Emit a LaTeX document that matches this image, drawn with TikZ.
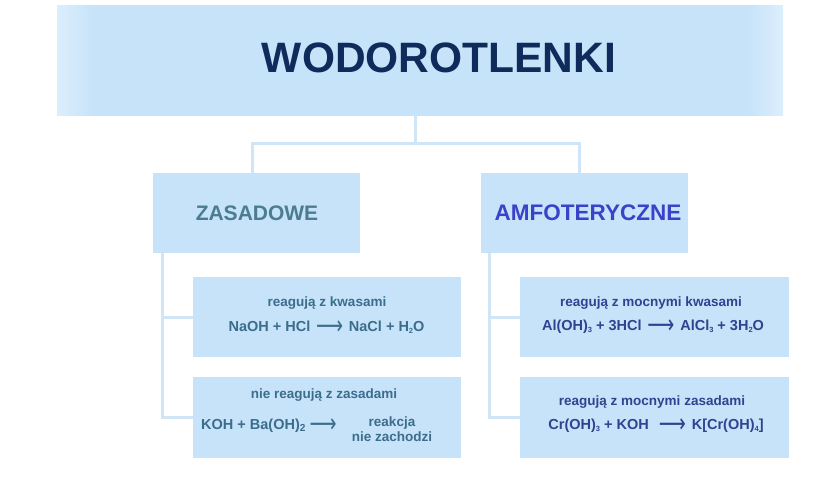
\documentclass[tikz,border=0pt]{standalone}
\usepackage{fontspec}
\setmainfont{Liberation Sans}
\newfontfamily\arrfont{DejaVu Sans}
\definecolor{boxfill}{HTML}{C6E3F9}
\definecolor{boxedge}{HTML}{DCEEFC}
\definecolor{linec}{HTML}{D0E6F6}
\definecolor{titlec}{HTML}{0F2B5B}
\definecolor{zasc}{HTML}{4B7C8F}
\definecolor{amfc}{HTML}{3B41C9}
\definecolor{ltxt}{HTML}{3C6D8C}
\definecolor{rtxt}{HTML}{2F4391}
\pgfdeclarehorizontalshading{titleshade}{100bp}{color(0bp)=(boxedge); color(25bp)=(boxedge); color(27.5bp)=(boxfill); color(72.5bp)=(boxfill); color(75bp)=(boxedge); color(100bp)=(boxedge)}
\newcommand{\rarr}{\hspace{0.4em}\raisebox{-0.22em}{\scalebox{1.3}[1.8]{\arrfont\mdseries ⟶}}\hspace{0.4em}}
\newcommand{\sub}[1]{\raisebox{-0.3ex}{\fontsize{7.5}{8}\selectfont #1}}
\begin{document}
\begin{tikzpicture}[x=1pt,y=-1pt,
  box/.style={fill=boxfill, draw=none, inner sep=0pt, anchor=north west},
  conn/.style={draw=linec, line width=3pt},
  captxt/.style={font=\fontsize{13.5}{15}\selectfont\bfseries, inner sep=0pt, align=center},
  eqtxt/.style={font=\fontsize{14.5}{18}\selectfont\bfseries, inner sep=0pt}]
\useasboundingbox (0,0) rectangle (840,480);
% boxes
\node[box, minimum width=726pt, minimum height=110pt, shading=titleshade] (title) at (57,5) {};
\node[box, minimum width=207pt, minimum height=80pt] (zas) at (153,173) {};
\node[box, minimum width=207pt, minimum height=80pt] (amf) at (481,173) {};
\node[box, minimum width=268pt, minimum height=80pt] (zk) at (193,277) {};
\node[box, minimum width=268pt, minimum height=81pt] (zz) at (193,377) {};
\node[box, minimum width=269pt, minimum height=80pt] (ak) at (520,277) {};
\node[box, minimum width=269pt, minimum height=81pt] (az) at (520,377) {};
% connectors
\coordinate (j) at (415,143);
\coordinate (cl) at (252,143);
\coordinate (cr) at (579,143);
\coordinate (sl) at (162,0);
\coordinate (sr) at (489,0);
\draw[conn] (title.south -| j) -- (j);
\draw[conn] (zas.north -| cl) -- (cl) -- (cr) -- (amf.north -| cr);
\draw[conn] (zas.south -| sl) |- (zz.west);
\draw[conn] (sl |- zk.west) -- (zk.west);
\draw[conn] (amf.south -| sr) |- (az.west);
\draw[conn] (sr |- ak.west) -- (ak.west);
% texts
\node[inner sep=0pt, text=titlec, font=\fontsize{42.5}{50}\selectfont\bfseries] (tt) at (439,58) {WODOROTLENKI};
\node[inner sep=0pt, text=zasc, font=\fontsize{21}{25}\selectfont\bfseries] (zt) at (257,213) {ZASADOWE};
\node[inner sep=0pt, text=amfc, font=\fontsize{22.5}{27}\selectfont\bfseries] (at) at (588,213) {AMFOTERYCZNE};
% left lower
\node[captxt, text=ltxt] (zkc) at (327,303) {reagują z kwasami};
\node[eqtxt, text=ltxt] (zke) at (326.5,328) {NaOH + HCl\rarr NaCl + H\sub{2}O};
\node[captxt, text=ltxt] (zzc) at (324,395) {nie reagują z zasadami};
\node[eqtxt, text=ltxt, anchor=west] (zze) at (201,426) {KOH + Ba(OH)\textsubscript{2}\hspace{-0.15em}\rarr};
\node[captxt, text=ltxt] (zzr) at (392,429.5) {reakcja\\nie zachodzi};
% right lower
\node[captxt, text=rtxt] (akc) at (651,303) {reagują z mocnymi kwasami};
\node[eqtxt, text=rtxt] (ake) at (653,327) {Al(OH)\sub{3} + 3HCl\rarr AlCl\sub{3} + 3H\sub{2}O};
\node[captxt, text=rtxt] (azc) at (652,402) {reagują z mocnymi zasadami};
\node[eqtxt, text=rtxt] (aze) at (656,426) {Cr(OH)\sub{3} + KOH\hspace{0.3em}\rarr K[Cr(OH)\sub{4}]};
\end{tikzpicture}
\end{document}
